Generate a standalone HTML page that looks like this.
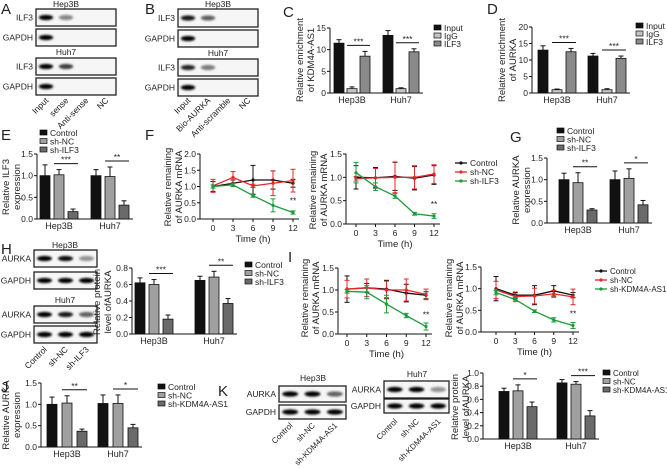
<!DOCTYPE html>
<html><head><meta charset="utf-8">
<style>
body{margin:0;background:#fff}
svg{display:block;font-family:"Liberation Sans",Arial,sans-serif}
text{fill:#222}
</style></head>
<body>
<svg id="fig" width="667" height="468" viewBox="0 0 667 468" xmlns="http://www.w3.org/2000/svg">
<defs><filter id="bl" x="-20%" y="-50%" width="140%" height="200%"><feGaussianBlur stdDeviation="1.1"/></filter></defs>
</svg>
<script>
// ---- data ----
const groups = ["Hep3B","Huh7"];
const cSeries = ["Input","IgG","ILF3"];
const cVals = [[11.5,1.0,8.5],[13.3,1.0,9.5]];
const cErr = [[0.8,0.4,1.1],[1.1,0.2,0.7]];
const cStars = ["***","***"];
const cTicks = [0,5,10,15];
const dVals = [[13.0,1.0,12.5],[11.2,1.0,10.5]];
const dErr = [[1.3,0.2,1.0],[0.8,0.3,0.7]];
const dStars = ["***","***"];
const dTicks = [0,5,10,15,20];
const eSeries = ["Control","sh-NC","sh-ILF3"];
const eVals = [[1.0,1.02,0.17],[1.0,0.98,0.32]];
const eErr = [[0.25,0.12,0.06],[0.14,0.22,0.1]];
const eStars = ["***","**"];
const t15 = [0.0,0.5,1.0,1.5];
const t20 = [0.0,0.5,1.0,1.5,2.0];
const gVals = [[1.0,0.93,0.3],[1.0,1.03,0.42]];
const gErr = [[0.15,0.23,0.03],[0.2,0.22,0.1]];
const gStars = ["**","*"];
const hVals = [[0.62,0.6,0.18],[0.65,0.69,0.37]];
const hErr = [[0.06,0.06,0.05],[0.05,0.07,0.06]];
const hStars = ["***","**"];
const t08 = [0.0,0.2,0.4,0.6,0.8];
const jSeries = ["Control","sh-NC","sh-KDM4A-AS1"];
const jVals = [[1.0,1.03,0.37],[1.02,1.02,0.45]];
const jErr = [[0.17,0.17,0.05],[0.2,0.2,0.08]];
const jStars = ["**","*"];
const kVals = [[0.72,0.73,0.49],[0.85,0.83,0.35]];
const kErr = [[0.05,0.09,0.07],[0.05,0.04,0.08]];
const kStars = ["*","***"];
const t10 = [0.0,0.2,0.4,0.6,0.8,1.0];
const times = [0,3,6,9,12];
const tTicks = [0,3,6,9,12];
const f1Ctrl = [1.0,1.1,1.2,1.2,1.1], f1CtrlE=[0.15,0.1,0.45,0.28,0.12];
const f1NC = [1.02,1.28,1.02,1.1,1.18], f1NCE=[0.2,0.18,0.05,0.38,0.35];
const f1KD = [1.0,1.05,0.72,0.42,0.2], f1KDE=[0.05,0.05,0.05,0.2,0.05];
const f2Ctrl = [1.0,0.99,1.02,0.98,1.05], f2CtrlE=[0.25,0.22,0.3,0.25,0.2];
const f2NC = [0.97,0.99,1.0,1.0,1.07], f2NCE=[0.05,0.2,0.33,0.25,0.2];
const f2KD = [1.1,0.8,0.6,0.22,0.17], f2KDE=[0.22,0.08,0.05,0.03,0.05];
const i1Ctrl = [1.02,1.05,1.02,0.93,0.88], i1CtrlE=[0.3,0.1,0.2,0.2,0.08];
const i1NC = [1.02,1.05,1.0,1.0,0.9], i1NCE=[0.2,0.2,0.2,0.25,0.12];
const i1KD = [0.97,0.95,0.68,0.42,0.17], i1KDE=[0.04,0.15,0.2,0.05,0.08];
const i2Ctrl = [1.0,0.85,0.85,0.95,0.85], i2CtrlE=[0.28,0.07,0.22,0.12,0.06];
const i2NC = [0.97,0.82,0.83,0.88,0.81], i2NCE=[0.2,0.08,0.18,0.08,0.18];
const i2KD = [0.91,0.75,0.48,0.28,0.15], i2KDE=[0.05,0.05,0.03,0.05,0.07];
const bandA = [[1,0.45,0,0],[1,0,0,0],[1,0.75,0,0],[1,0,0,0]];
const bandB = [[0.9,0.6,0,0],[1,0,0,0],[0.85,0.5,0,0],[1,0,0,0]];
const bandH = [[1,0.95,0.4],[1,1,1],[1,0.9,0.6],[1,1,1]];
const bandK1 = [[1,1,0.6],[1,1,1]];
const bandK2 = [[1,1,0.4],[1,1,1]];

const S = document.getElementById('fig');
const NS = "http://www.w3.org/2000/svg";
function mk(tag, a, txt){const e=document.createElementNS(NS,tag);for(const k in a)e.setAttribute(k,a[k]);if(txt!==undefined)e.textContent=txt;S.appendChild(e);return e;}
function txt(x,y,s,size,anchor,nm,rot){const e=mk('text',{x:x,y:y,'font-size':size||9,'text-anchor':anchor||'start'},s);


if(rot)e.setAttribute('transform','rotate('+rot+' '+x+' '+y+')');return e;}
function ln(x1,y1,x2,y2,c,w,nm){const e=mk('line',{x1:x1,y1:y1,x2:x2,y2:y2,stroke:c||'#111','stroke-width':w||1});

return e;}
function ylab(x,y,l1,l2,nm){txt(x,y,l1,9.5,'middle',nm,-90);txt(x+11,y,l2,9.5,'middle',nm,-90);}

function barChart(o){
  const sy=v=>o.y0-(v/o.vmax)*(o.y0-o.yTop);
  ln(o.ax,o.yTop,o.ax,o.y0,'#111',1,'y-axis');
  o.ticks.forEach(t=>{const y=sy(t);ln(o.ax-3,y,o.ax,y,'#111',1,'y-tick');txt(o.ax-4,y+3,o.fmt?t.toFixed(o.fmt):t,8.5,'end','y-tick-label');});
  const xEnd=o.first+o.gstep+2*o.step+o.bw+4;
  ln(o.ax,o.y0,xEnd,o.y0,'#111',1,'x-axis');
  o.vals.forEach((g,gi)=>{
    const gx=o.first+gi*o.gstep;
    g.forEach((v,si)=>{
      const x=gx+si*o.step,y=sy(v),cx=x+o.bw/2,ey=sy(v+o.err[gi][si]);
      ln(cx,ey,cx,y,'#111',1,'error-bar');ln(cx-2.5,ey,cx+2.5,ey,'#111',1,'error-cap');
      const r=mk('rect',{x:x,y:y,width:o.bw,height:o.y0-y,fill:o.cols[si],stroke:'#111','stroke-width':0.8});
      
      
    });
    const x1=gx+o.step,x2=gx+2*o.step+o.bw;
    const top=Math.min(sy(g[1]+o.err[gi][1]),sy(g[2]+o.err[gi][2]))-6;
    ln(x1,top,x2,top,'#111',1,'significance-line');
    txt((x1+x2)/2,top-1,o.stars[gi],8.5,'middle','significance-stars');
    txt(gx+o.step+o.bw/2,o.y0+10,groups[gi],9,'middle','x-category-label');
  });
  if(o.leg){o.series.forEach((s,i)=>{const y=o.leg[1]+i*o.leg[2];
    const r=mk('rect',{x:o.leg[0],y:y-6,width:7,height:5,fill:o.cols[i],stroke:'#111','stroke-width':0.7});
    
    
    txt(o.leg[0]+10,y,s,o.legFs||8.5,'start','legend-entry');});}
}
const lcols=['#111','#e8262a','#1e9a3c'];
function lineChart(o){
  const sx=t=>o.x0+(t/12)*(o.x12-o.x0), sy=v=>o.y0-(v/o.vmax)*(o.y0-o.yTop);
  ln(o.ax,o.yTop,o.ax,o.y0,'#111',1,'y-axis');
  ln(o.ax,o.y0,o.x12+6,o.y0,'#111',1,'x-axis');
  o.ticks.forEach(t=>{const y=sy(t);ln(o.ax-3,y,o.ax,y,'#111',1,'y-tick');txt(o.ax-4,y+3,t.toFixed(1),8.5,'end','y-tick-label');});
  tTicks.forEach(t=>{const x=sx(t);ln(x,o.y0,x,o.y0+3,'#111',1,'x-tick');txt(x,o.y0+12,t,8.5,'middle','x-tick-label');});
  txt((o.x0+o.x12)/2,o.y0+23,'Time (h)',9.5,'middle','x-axis-title');
  o.series.forEach((s,i)=>{
    const pts=times.map((t,k)=>sx(t)+','+sy(s[0][k])).join(' ');
    const p=mk('polyline',{points:pts,fill:'none',stroke:lcols[i],'stroke-width':1.3});
    
    
    times.forEach((t,k)=>{const x=sx(t),y1=sy(s[0][k]+s[1][k]),y2=sy(s[0][k]-s[1][k]);
      ln(x,y1,x,y2,lcols[i],1,'error-bar');ln(x-2.5,y1,x+2.5,y1,lcols[i],1,'error-cap');ln(x-2.5,y2,x+2.5,y2,lcols[i],1,'error-cap');
      const m=mk('circle',{cx:x,cy:sy(s[0][k]),r:1.6,fill:lcols[i]});
      
      });
  });
  txt(sx(12),sy(o.series[2][0][4])-9,'**',8.5,'middle','significance-stars');
}
function lineLegend(x,y,names,fs){names.forEach((n,i)=>{const yy=y+i*9;ln(x,yy-3,x+12,yy-3,lcols[i],1.3,'legend-line');
  const m=mk('circle',{cx:x+6,cy:yy-3,r:1.6,fill:lcols[i]});
  
  
  txt(x+15,yy,n,fs||8.5,'start','legend-entry');});}
function blot(x,y,w,h,lanes,ints,lab){
  const r=mk('rect',{x:x,y:y,width:w,height:h,fill:'#f6f6f6',stroke:'#222','stroke-width':1.3});
  
  
  const lw=w/lanes;
  ints.forEach((v,i)=>{if(v>0){const e=mk('ellipse',{cx:x+lw*(i+0.5),cy:y+h/2,rx:lw*0.36,ry:2.6,fill:'#000','fill-opacity':v,filter:'url(#bl)'});
    
    }});
  txt(x-3,y+h/2+3,lab,8.5,'end','blot-row-label');
}
function lanes(x,y,w,n,names,fs){const lw=w/n;names.forEach((s,i)=>txt(x+lw*(i+0.5)+3,y,s,fs||8.5,'end','lane-label',-45));}
function panel(x,y,l){txt(x,y,l,15,'start','panel-label-'+l.toLowerCase());}

// A
panel(1,14,'A');
txt(66,7,'Hep3B',8.5,'middle','blot-title');
blot(36,9,80,17,4,bandA[0],'ILF3');blot(36,29,80,17,4,bandA[1],'GAPDH');
txt(66,55,'Huh7',8.5,'middle','blot-title');
blot(36,58,80,17,4,bandA[2],'ILF3');blot(36,78,80,17,4,bandA[3],'GAPDH');
lanes(36,101,80,4,['Input','sense','Anti-sense','NC']);
// B
panel(145,14,'B');
txt(218,7,'Hep3B',8.5,'middle','blot-title');
blot(178,9,80,18,4,bandB[0],'ILF3');blot(178,30,80,17,4,bandB[1],'GAPDH');
txt(218,56,'Huh7',8.5,'middle','blot-title');
blot(178,59,80,17,4,bandB[2],'ILF3');blot(178,79,80,17,4,bandB[3],'GAPDH');
lanes(178,101,80,4,['Input','Bio-AURKA','Anti-scramble','NC']);
// C
panel(283,17,'C');
ylab(303,60,'Relative enrichment','of KDM4A-AS1','y-axis-title');
barChart({ax:330,y0:93,yTop:28,vmax:15,ticks:cTicks,first:334,bw:10,step:13,gstep:49,vals:cVals,err:cErr,stars:cStars,cols:['#111','#c4c4c4','#8a8a8a'],series:cSeries,leg:[434,31,8]});
// D
panel(487,14,'D');
ylab(505,60,'Relative enrichment','of AURKA','y-axis-title');
barChart({ax:532,y0:93,yTop:27,vmax:20,ticks:dTicks,first:538,bw:10,step:14,gstep:50,vals:dVals,err:dErr,stars:dStars,cols:['#111','#c4c4c4','#8a8a8a'],series:cSeries,leg:[636,29,8]});
// E
panel(1,140,'E');
ylab(9,187,'Relative ILF3','expression','y-axis-title');
barChart({ax:37,y0:219,yTop:154,vmax:1.5,ticks:t15,fmt:1,first:40,bw:10,step:14,gstep:51,vals:eVals,err:eErr,stars:eStars,cols:['#111','#a0a0a0','#6a6a6a'],series:eSeries,leg:[40,136,8.5]});
// F
panel(145,140,'F');
ylab(171,187,'Relative remaining','of AURKA mRNA','y-axis-title');
lineChart({ax:200,x0:213,x12:293,y0:219,yTop:154,vmax:2,ticks:t20,series:[[f1Ctrl,f1CtrlE],[f1NC,f1NCE],[f1KD,f1KDE]]});
ylab(316,190,'Relative remaining','of AURKA mRNA','y-axis-title');
lineChart({ax:346,x0:356,x12:434,y0:224,yTop:154,vmax:1.5,ticks:t15,series:[[f2Ctrl,f2CtrlE],[f2NC,f2NCE],[f2KD,f2KDE]]});
lineLegend(455,166,eSeries);
// G
panel(510,142,'G');
ylab(519,190,'Relative AURKA','expression','y-axis-title');
barChart({ax:547,y0:223,yTop:158,vmax:1.5,ticks:t15,fmt:1,first:559,bw:10,step:14,gstep:51,vals:gVals,err:gErr,stars:gStars,cols:['#111','#a0a0a0','#6a6a6a'],series:eSeries,leg:[557,134,8.5]});
// H
panel(1,254,'H');
txt(65,248,'Hep3B',8.5,'middle','blot-title');
blot(34,250,63,17,3,bandH[0],'AURKA');blot(34,272,63,17,3,bandH[1],'GAPDH');
txt(65,303,'Huh7',8.5,'middle','blot-title');
blot(34,306,63,17,3,bandH[2],'AURKA');blot(34,326,63,17,3,bandH[3],'GAPDH');
lanes(34,350,63,3,['Control','sh-NC','sh-ILF3']);
ylab(100,302,'Relative protein','level ofAURKA','y-axis-title');
barChart({ax:132,y0:334,yTop:268,vmax:0.8,ticks:t08,fmt:1,first:135,bw:10,step:14,gstep:60,vals:hVals,err:hErr,stars:hStars,cols:['#111','#a0a0a0','#6a6a6a'],series:eSeries,leg:[245,268,8.5]});
// I
panel(288,262,'I');
ylab(308,298,'Relative remaining','of AURKA mRNA','y-axis-title');
lineChart({ax:338,x0:347,x12:426,y0:334,yTop:268,vmax:1.5,ticks:t15,series:[[i1Ctrl,i1CtrlE],[i1NC,i1NCE],[i1KD,i1KDE]]});
ylab(452,298,'Relative remaining','of AURKA mRNA','y-axis-title');
lineChart({ax:481,x0:496,x12:573,y0:332,yTop:267,vmax:1.5,ticks:t15,series:[[i2Ctrl,i2CtrlE],[i2NC,i2NCE],[i2KD,i2KDE]]});
lineLegend(595,274,jSeries,8);
// J
panel(1,392,'J');
ylab(9,415,'Relative AURKA','expression','y-axis-title');
barChart({ax:41,y0:447,yTop:383,vmax:1.5,ticks:t15,fmt:1,first:47,bw:10,step:15,gstep:51,vals:jVals,err:jErr,stars:jStars,cols:['#111','#a0a0a0','#6a6a6a'],series:jSeries,leg:[158,390,8.5]});
// K
panel(218,396,'K');
txt(313,381,'Hep3B',8.5,'middle','blot-title');
blot(279,386,67,16,3,bandK1[0],'AURKA');blot(279,405,67,14,3,bandK1[1],'GAPDH');
txt(417,377,'Huh7',8.5,'middle','blot-title');
blot(384,381,65,17,3,bandK2[0],'AURKA');blot(384,399,65,14,3,bandK2[1],'GAPDH');
lanes(279,426,67,3,['Control','sh-NC','sh-KDM4A-AS1'],8);
lanes(384,422,65,3,['Control','sh-NC','sh-KDM4A-AS1'],8);
ylab(458,407,'Relative protein','level ofAURKA','y-axis-title');
barChart({ax:483,y0:439,yTop:373,vmax:1.0,ticks:t10,fmt:1,first:499,bw:10,step:14,gstep:58,vals:kVals,err:kErr,stars:kStars,cols:['#111','#a0a0a0','#6a6a6a'],series:jSeries,leg:[603,376,8.5],legFs:8});
</script>
</body></html>
